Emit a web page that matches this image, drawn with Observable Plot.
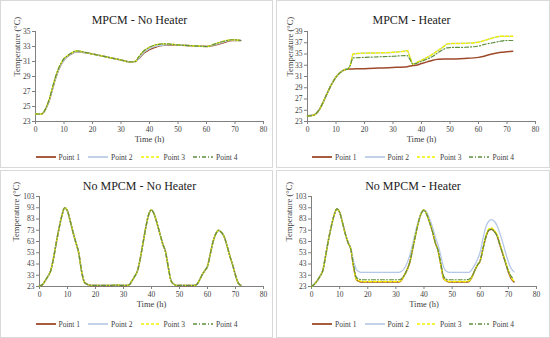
<!DOCTYPE html>
<html>
<head>
<meta charset="utf-8">
<script src="https://cdn.jsdelivr.net/npm/d3@7"></script>
<script src="https://cdn.jsdelivr.net/npm/@observablehq/plot@0.6"></script>
<style>
  html, body { margin: 0; padding: 0; background: #fff; }
  #root { position: relative; width: 550px; height: 338px; background: #fff; font-family: "Liberation Serif", "DejaVu Serif", serif; }
  .panel { position: absolute; outline: 1px solid #d9d9d9; outline-offset: -1px; background: #fff; }
  .panel svg { display: block; font-family: "Liberation Serif", "DejaVu Serif", serif !important; }
  .panel svg text { font-family: "Liberation Serif", "DejaVu Serif", serif !important; }
  .legend { display: flex; justify-content: center; align-items: center; gap: 8px; font-size: 7.5px; color: #404040; font-family: "Liberation Serif", "DejaVu Serif", serif; }
  .legend .item { display: flex; align-items: center; gap: 3px; }
</style>
</head>
<body>
<div id="root"></div>
<script>
// ---------- shared ----------
const seriesNames = ["Point 1", "Point 2", "Point 3", "Point 4"];
const seriesColors = ["#9e4a2a", "#b4c7e7", "#f2f200", "#5f8f3e"];
const seriesDash = [null, null, "3,2", "4,2,1,2"];
const seriesWidth = [1.5, 1.3, 1.4, 1.2];
const xTicks = [0, 10, 20, 30, 40, 50, 60, 70, 80];
const titles = ["MPCM - No Heater", "MPCM - Heater", "No MPCM - No Heater", "No MPCM - Heater"];

// ---------- panel 1: MPCM - No Heater ----------
const t1 = [0, 2, 3, 4, 5, 6, 7, 8, 9, 10, 11, 12, 13, 14, 15, 17, 20, 25, 30, 33, 35, 36, 37, 38, 40, 42, 45, 48, 50, 55, 60, 63, 66, 69, 72];
const p1_1 = [24.0, 24.0, 24.3, 25.0, 26.0, 27.4, 28.7, 29.8, 30.6, 31.2, 31.6, 31.9, 32.1, 32.3, 32.3, 32.2, 32.0, 31.6, 31.2, 30.95, 31.0, 31.3, 31.7, 32.1, 32.6, 32.9, 33.15, 33.2, 33.2, 33.1, 33.0, 33.2, 33.5, 33.8, 33.8];
const p1_2 = [24.0, 24.0, 24.3, 25.0, 26.0, 27.4, 28.7, 29.8, 30.6, 31.2, 31.6, 31.9, 32.1, 32.3, 32.3, 32.2, 32.0, 31.6, 31.2, 30.95, 31.0, 31.3, 31.8, 32.2, 32.7, 33.0, 33.2, 33.25, 33.2, 33.1, 33.0, 33.25, 33.6, 33.85, 33.8];
const p1_3 = [24.0, 24.0, 24.3, 25.1, 26.2, 27.6, 28.9, 30.0, 30.8, 31.4, 31.7, 32.0, 32.2, 32.4, 32.4, 32.25, 32.0, 31.6, 31.2, 30.95, 31.0, 31.5, 32.0, 32.4, 32.9, 33.2, 33.35, 33.3, 33.2, 33.1, 33.0, 33.35, 33.7, 33.9, 33.8];
const p1_4 = [24.0, 24.0, 24.3, 25.1, 26.2, 27.6, 28.9, 30.0, 30.8, 31.4, 31.7, 32.0, 32.2, 32.4, 32.4, 32.25, 32.0, 31.6, 31.2, 30.95, 31.0, 31.5, 32.0, 32.4, 32.9, 33.2, 33.35, 33.3, 33.2, 33.1, 33.0, 33.35, 33.7, 33.9, 33.8];

// ---------- panel 2: MPCM - Heater ----------
const t2 = [0, 2, 3, 4, 5, 6, 7, 8, 9, 10, 11, 12, 13, 14, 15, 16, 18, 20, 25, 30, 34, 35, 36, 37, 38, 40, 42, 44, 46, 48, 49, 50, 55, 60, 62, 64, 66, 68, 70, 72];
const p2_1 = [24.0, 24.1, 24.4, 25.0, 25.9, 27.0, 28.1, 29.2, 30.1, 30.9, 31.5, 31.9, 32.2, 32.3, 32.35, 32.35, 32.4, 32.4, 32.5, 32.6, 32.7, 32.75, 32.85, 32.95, 33.0, 33.3, 33.6, 33.9, 34.05, 34.1, 34.1, 34.1, 34.2, 34.4, 34.6, 34.9, 35.15, 35.3, 35.4, 35.5];
const p2_2 = [24.0, 24.1, 24.4, 25.0, 25.9, 27.0, 28.1, 29.2, 30.1, 30.9, 31.5, 31.9, 32.2, 32.3, 33.0, 35.0, 35.1, 35.15, 35.2, 35.3, 35.5, 35.6, 34.4, 33.2, 33.4, 33.9, 34.4, 35.0, 35.7, 36.4, 36.8, 36.85, 36.9, 37.1, 37.4, 37.7, 38.0, 38.15, 38.15, 38.15];
const p2_3 = [24.0, 24.1, 24.4, 25.0, 25.9, 27.0, 28.1, 29.2, 30.1, 30.9, 31.5, 31.9, 32.2, 32.3, 33.0, 35.0, 35.1, 35.15, 35.2, 35.3, 35.5, 35.6, 34.4, 33.2, 33.4, 33.9, 34.4, 35.0, 35.7, 36.4, 36.8, 36.85, 36.9, 37.1, 37.4, 37.7, 38.0, 38.15, 38.15, 38.15];
const p2_4 = [24.0, 24.1, 24.4, 25.0, 25.9, 27.0, 28.1, 29.2, 30.1, 30.9, 31.5, 31.9, 32.2, 32.3, 33.0, 34.3, 34.35, 34.4, 34.5, 34.6, 34.7, 34.7, 34.0, 33.2, 33.3, 33.7, 34.1, 34.6, 35.3, 35.9, 36.1, 36.15, 36.2, 36.4, 36.7, 36.9, 37.1, 37.3, 37.4, 37.4];

// ---------- panel 3: No MPCM - No Heater (hourly 0..72) ----------
const t3 = d3.range(0, 73);
const p3_1 = [23.5, 24.5, 28, 32, 37, 48, 62, 75, 86, 93, 90, 81, 71, 62, 53, 37, 27, 25, 24.2, 24, 24, 24, 24, 24, 24, 24, 24, 24.2, 24.2, 24, 24, 24, 24.5, 28, 32, 37, 48, 62, 76, 87, 91, 87, 79, 70, 61, 54, 40, 28, 25, 24, 24, 24, 24, 24, 24, 24, 24.5, 28, 33, 37, 41, 52, 63, 70, 73, 71, 67, 59, 50, 42, 33, 26, 24];
const p3_2 = p3_1;
const p3_3 = p3_1;
const p3_4 = p3_1;

// ---------- panel 4: No MPCM - Heater (hourly 0..72) ----------
const t4 = d3.range(0, 73);
const p4_1 = [23, 25, 28, 32, 37, 50, 64, 76, 86, 92, 89, 80, 70, 62, 56, 40, 29, 27.5, 27, 27, 27, 27, 27, 27, 27, 27, 27, 27, 27, 27, 27, 27, 28.5, 33, 38, 45, 57, 69, 80, 88, 91, 87, 80, 72, 62, 55, 42, 30, 28, 27, 27, 27, 27, 27, 27, 27, 27.5, 31, 37, 42, 46, 57, 67, 73, 74, 72, 68, 60, 52, 44, 36, 30, 27];
const p4_2 = [23, 25, 28, 32, 37, 50, 64, 76, 86, 92, 89, 80, 70, 62, 57, 45, 38, 36, 35.5, 35.5, 35.5, 35.5, 35.5, 35.5, 35.5, 35.5, 35.5, 35.5, 35.5, 35.5, 35.5, 35.5, 36.5, 39, 44, 51, 61, 72, 81, 88, 91, 89, 83, 76, 67, 60, 50, 40, 36.5, 35.5, 35.5, 35.5, 35.5, 35.5, 35.5, 35.5, 35.5, 38, 42, 47, 54, 66, 76, 81, 82.5, 81, 77, 70, 62, 53, 45, 39, 36];
const p4_3 = [23, 25, 28, 32, 37, 50, 64, 76, 86, 92, 89, 80, 70, 62, 56, 40, 29, 28, 27.5, 27.5, 27.5, 27.5, 27.5, 27.5, 27.5, 27.5, 27.5, 27.5, 27.5, 27.5, 27.5, 27.5, 28.5, 33, 38, 45, 57, 69, 80, 88, 91, 87, 80, 72, 62, 55, 42, 30, 28, 27.5, 27.5, 27.5, 27.5, 27.5, 27.5, 27.5, 28, 31, 37, 42, 46, 57, 68, 74, 75, 73, 69, 61, 53, 45, 37, 31, 28];
const p4_4 = [23, 25, 28, 32, 37, 50, 64, 76, 86, 92, 89, 80, 70, 62, 56, 41, 31, 29.5, 29, 29, 29, 29, 29, 29, 29, 29, 29, 29, 29, 29, 29, 29, 30, 33, 38, 45, 57, 69, 80, 88, 91, 87, 80, 72, 62, 55, 43, 32, 29.5, 29, 29, 29, 29, 29, 29, 29, 29.5, 32, 37, 42, 46, 57, 67, 73, 74, 72, 68, 60, 52, 44, 37, 32, 30];

// ---------- layout per panel ----------
const panels = [
  { left: 0,   top: 0,   w: 273, h: 168, svgH: 150, ml: 35, mr: 10, mt: 31, mb: 29, yDomain: [23, 35],  yTicks: [23, 25, 27, 29, 31, 33, 35], t: t1, vals: [p1_1, p1_2, p1_3, p1_4], titleDx: -10, titleDy: -16, labelDy: 20, yLabelDx: -18, legendH: 14 },
  { left: 276, top: 0,   w: 274, h: 168, svgH: 150, ml: 31, mr: 15, mt: 31, mb: 29, yDomain: [23, 39],  yTicks: [23, 25, 27, 29, 31, 33, 35, 37, 39], t: t2, vals: [p2_1, p2_2, p2_3, p2_4], titleDx: -10, titleDy: -16, labelDy: 20, yLabelDx: -17, legendH: 14 },
  { left: 0,   top: 170, w: 273, h: 168, svgH: 146, ml: 39, mr: 10, mt: 26, mb: 30, yDomain: [23, 103], yTicks: [23, 33, 43, 53, 63, 73, 83, 93, 103], t: t3, vals: [p3_1, p3_2, p3_3, p3_4], titleDx: -12, titleDy: -15, labelDy: 20, yLabelDx: -23, legendH: 16 },
  { left: 276, top: 170, w: 274, h: 168, svgH: 146, ml: 35, mr: 14, mt: 26, mb: 30, yDomain: [23, 103], yTicks: [23, 33, 43, 53, 63, 73, 83, 93, 103], t: t4, vals: [p4_1, p4_2, p4_3, p4_4], titleDx: -11, titleDy: -15, labelDy: 20, yLabelDx: -22, legendH: 16 }
];

const root = document.getElementById("root");
const axisColor = "#808080";
const textColor = "#404040";
const serif = '"Liberation Serif", "DejaVu Serif", serif';

panels.forEach((p, i) => {
  const div = document.createElement("div");
  div.className = "panel";
  div.style.left = p.left + "px";
  div.style.top = p.top + "px";
  div.style.width = p.w + "px";
  div.style.height = p.h + "px";

  const lineMarks = p.vals.map((vals, k) => {
    const rows = p.t.map((t, j) => ({ t, v: vals[j] }));
    return Plot.line(rows, {
      x: "t", y: "v",
      stroke: seriesColors[k],
      strokeWidth: seriesWidth[k],
      strokeDasharray: seriesDash[k] || undefined,
      curve: "monotone-x"
    });
  });

  const chart = Plot.plot({
    width: p.w,
    height: p.svgH,
    marginLeft: p.ml, marginRight: p.mr, marginTop: p.mt, marginBottom: p.mb,
    style: { fontFamily: serif, background: "transparent", color: textColor },
    x: { domain: [0, 80] },
    y: { domain: p.yDomain },
    marks: [
      Plot.axisX({ ticks: xTicks, tickSize: 3, tickPadding: 2, fontSize: 7.5, fontFamily: serif, label: null, stroke: axisColor, fill: textColor }),
      Plot.axisY({ ticks: p.yTicks, tickSize: 3, tickPadding: 2, fontSize: 7.5, fontFamily: serif, label: null, stroke: axisColor, fill: textColor }),
      Plot.ruleY([p.yDomain[0]], { stroke: axisColor }),
      Plot.ruleX([0], { stroke: axisColor }),
      ...lineMarks,
      Plot.text([titles[i]], { text: d => d, frameAnchor: "top", dx: p.titleDx, dy: p.titleDy, fontSize: 12, fontFamily: serif, fill: "#222" }),
      Plot.text(["Time (h)"], { text: d => d, frameAnchor: "bottom", dy: p.labelDy, fontSize: 8.5, fontFamily: serif, fill: textColor }),
      Plot.text(["Temperature (°C)"], { text: d => d, frameAnchor: "left", dx: p.yLabelDx, rotate: -90, fontSize: 8.5, fontFamily: serif, fill: textColor })
    ]
  });
  div.appendChild(chart);

  const legend = document.createElement("div");
  legend.className = "legend";
  legend.style.height = p.legendH + "px";
  seriesNames.forEach((name, k) => {
    const item = document.createElement("div");
    item.className = "item";
    const ns = "http://www.w3.org/2000/svg";
    const sw = document.createElementNS(ns, "svg");
    sw.setAttribute("width", 20);
    sw.setAttribute("height", 6);
    const ln = document.createElementNS(ns, "line");
    ln.setAttribute("x1", 0); ln.setAttribute("x2", 20);
    ln.setAttribute("y1", 3); ln.setAttribute("y2", 3);
    ln.setAttribute("stroke", seriesColors[k]);
    ln.setAttribute("stroke-width", seriesWidth[k] + 0.3);
    if (seriesDash[k]) ln.setAttribute("stroke-dasharray", seriesDash[k]);
    sw.appendChild(ln);
    const label = document.createElement("span");
    label.textContent = name;
    item.appendChild(sw);
    item.appendChild(label);
    legend.appendChild(item);
  });
  div.appendChild(legend);
  root.appendChild(div);
});
</script>
</body>
</html>
